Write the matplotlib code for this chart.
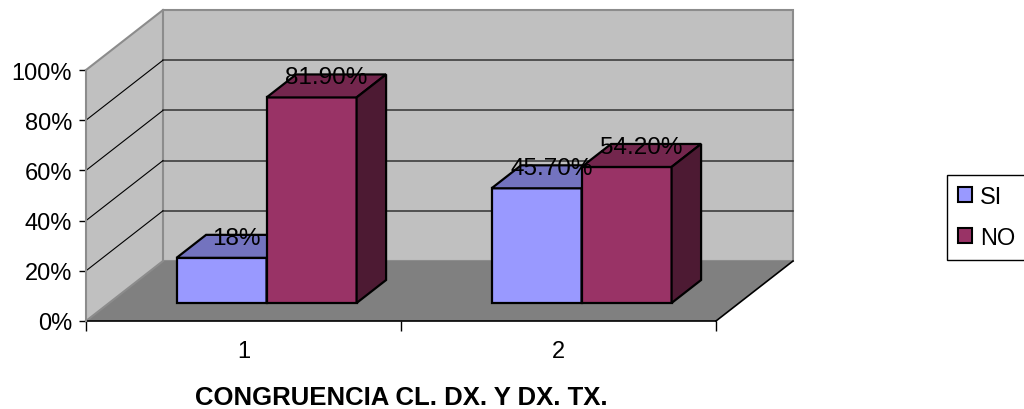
import matplotlib
matplotlib.use('Agg')
import matplotlib.pyplot as plt
from matplotlib.patches import Polygon, Patch
from matplotlib.ticker import FuncFormatter
import numpy as np

plt.rcParams['font.family'] = ['Liberation Sans', 'DejaVu Sans']

# datos
categorias = ['1', '2']
si = [18.0, 45.7]
no = [81.9, 54.2]
etiquetas_si = ['18%', '45.70%']
etiquetas_no = ['81.90%', '54.20%']
series = ['SI', 'NO']
titulo = 'CONGRUENCIA CL. DX. Y DX. TX.'

# colores estilo Excel
color_si = '#9999FF'
color_no = '#993366'
pared = '#C0C0C0'
piso = '#808080'
borde = '#8C8C8C'

# desplazamiento de profundidad (unidades de datos)
DX = 0.2444
DY = 23.9
ancho = 0.2857
d0, d1 = 0.30, 0.683


def proy(x, y, d):
    return (x + d * DX, y + d * DY)


def sombra(color, f):
    rgb = np.array(matplotlib.colors.to_rgb(color))
    return tuple(rgb * f)


fig = plt.figure(figsize=(10.24, 4.10), dpi=100)
ax = fig.add_axes([86 / 1024, 88 / 410, 630 / 1024, 251 / 410])
ax.set_xlim(0.5, 2.5)
ax.set_ylim(0, 100)
ax.patch.set_visible(False)

x0, x1 = 0.5, 2.5

# paredes y piso
ax.add_patch(Polygon([proy(x0, 0, 0), proy(x0, 100, 0), proy(x0, 100, 1), proy(x0, 0, 1)],
                     closed=True, facecolor=pared, edgecolor='none', clip_on=False, zorder=0))
ax.add_patch(Polygon([proy(x0, 0, 1), proy(x1, 0, 1), proy(x1, 100, 1), proy(x0, 100, 1)],
                     closed=True, facecolor=pared, edgecolor=borde, lw=1.5, clip_on=False, zorder=0))
ax.add_patch(Polygon([proy(x0, 0, 0), proy(x1, 0, 0), proy(x1, 0, 1), proy(x0, 0, 1)],
                     closed=True, facecolor=piso, edgecolor='none', clip_on=False, zorder=1))

# lineas de division
for v in [20, 40, 60, 80]:
    a, b = proy(x0, v, 1), proy(x1, v, 1)
    ax.plot([a[0], b[0]], [a[1], b[1]], color='#333333', lw=1.1, clip_on=False, zorder=1)
    a, b = proy(x0, v, 0), proy(x0, v, 1)
    ax.plot([a[0], b[0]], [a[1], b[1]], color='black', lw=0.8, clip_on=False, zorder=1)
for v in [0, 100]:
    a, b = proy(x0, v, 0), proy(x0, v, 1)
    ax.plot([a[0], b[0]], [a[1], b[1]], color=borde, lw=1.5, clip_on=False, zorder=1)
a, b = proy(x1, 0, 0), proy(x1, 0, 1)
ax.plot([a[0], b[0]], [a[1], b[1]], color='black', lw=1.2, clip_on=False, zorder=2)


def barra(xa, xb, v, color):
    kw = dict(closed=True, edgecolor='black', lw=1.6, clip_on=False, zorder=3, joinstyle='miter')
    ax.add_patch(Polygon([proy(xa, 0, d0), proy(xb, 0, d0), proy(xb, v, d0), proy(xa, v, d0)],
                         facecolor=color, **kw))
    ax.add_patch(Polygon([proy(xa, v, d0), proy(xb, v, d0), proy(xb, v, d1), proy(xa, v, d1)],
                         facecolor=sombra(color, 0.75), **kw))
    ax.add_patch(Polygon([proy(xb, 0, d0), proy(xb, 0, d1), proy(xb, v, d1), proy(xb, v, d0)],
                         facecolor=sombra(color, 0.5), **kw))


for i, cat in enumerate(categorias):
    c = i + 1
    barra(c - ancho, c, si[i], color_si)
    barra(c, c + ancho, no[i], color_no)

dm = (d0 + d1) / 2
for i, cat in enumerate(categorias):
    c = i + 1
    for xc, v, txt in [(c - ancho / 2, si[i], etiquetas_si[i]), (c + ancho / 2, no[i], etiquetas_no[i])]:
        ax.annotate(txt, proy(xc, v, dm), xytext=(0, 2), textcoords='offset points',
                    ha='center', va='baseline', fontsize=17.5, zorder=5, annotation_clip=False)

# ejes
for s in ['top', 'right']:
    ax.spines[s].set_visible(False)
ax.spines['left'].set_color(borde)
ax.spines['left'].set_linewidth(1.5)
ax.spines['bottom'].set_color('black')
ax.spines['bottom'].set_linewidth(1.2)
ax.spines['bottom'].set_zorder(2)

ax.set_yticks([0, 20, 40, 60, 80, 100])
ax.yaxis.set_major_formatter(FuncFormatter(lambda v, p: f'{v:.0f}%'))
ax.tick_params(axis='y', length=5, width=1, color='black', pad=5, labelsize=17)

ax.set_xticks([0.5, 1.5, 2.5])
ax.set_xticklabels(['', '', ''])
ax.set_xticks([1, 2], minor=True)
ax.set_xticklabels(categorias, minor=True)
ax.tick_params(axis='x', which='major', length=7, width=1, color='black')
ax.tick_params(axis='x', which='minor', length=0, pad=14, labelsize=17)

fig.text(401 / 1024, 5 / 410, titulo, ha='center', va='baseline',
         fontsize=18.5, fontweight='bold')

# leyenda
handles = [Patch(facecolor=color_si, edgecolor='black', lw=1.5),
           Patch(facecolor=color_no, edgecolor='black', lw=1.5)]
leg = fig.legend(handles, series, loc='center left', bbox_to_anchor=(947 / 1024, 191.5 / 410),
                 fontsize=17, frameon=True, fancybox=False, framealpha=1,
                 handlelength=0.6, handleheight=0.6, handletextpad=0.35,
                 labelspacing=0.8, borderpad=0.45, borderaxespad=0)
leg.get_frame().set_edgecolor('black')
leg.get_frame().set_linewidth(1.0)

fig.savefig('out.png', dpi=100)
